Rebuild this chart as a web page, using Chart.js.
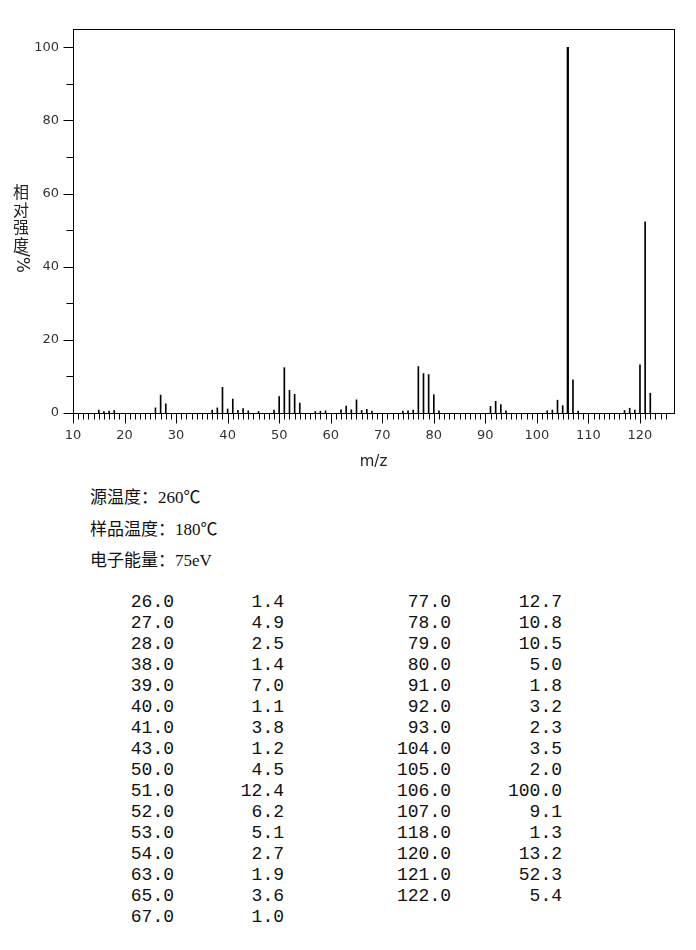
<!DOCTYPE html>
<html>
<head>
<meta charset="utf-8">
<script src="https://cdn.jsdelivr.net/npm/chart.js@4.4.1/dist/chart.umd.min.js"></script>
<style>
  body { margin: 0; background: #fff; width: 696px; height: 950px; position: relative; overflow: hidden; }
  #chartBox { position: absolute; left: 0; top: 0; width: 696px; height: 480px; }
  .info { position: absolute; left: 90px; font: 17px "Liberation Serif", "Noto Sans CJK SC", serif; color: #111; line-height: 20px; white-space: nowrap; }
  .cell { position: absolute; width: 120px; text-align: right; font: 18px "Liberation Mono", monospace; line-height: 21px; color: #111; }
</style>
</head>
<body>
<div id="chartBox"><canvas id="msChart"></canvas></div>
<div id="info"></div>
<div id="peakTable"></div>
<script>
// peaks listed in the table (m/z, relative intensity %)
const peakMz = [26, 27, 28, 38, 39, 40, 41, 43, 50, 51, 52, 53, 54, 63, 65, 67,
                77, 78, 79, 80, 91, 92, 93, 104, 105, 106, 107, 118, 120, 121, 122];
const peakInt = [1.4, 4.9, 2.5, 1.4, 7.0, 1.1, 3.8, 1.2, 4.5, 12.4, 6.2, 5.1, 2.7, 1.9, 3.6, 1.0,
                 12.7, 10.8, 10.5, 5.0, 1.8, 3.2, 2.3, 3.5, 2.0, 100.0, 9.1, 1.3, 13.2, 52.3, 5.4];
// small peaks (< 1 %) seen only in the plot, estimated
const traceMz = [15, 16, 17, 18, 37, 42, 44, 46, 49, 57, 58, 59, 62, 64, 66, 68, 74, 75, 76, 81, 94, 102, 103, 108, 117, 119];
const traceInt = [0.8, 0.4, 0.5, 0.7, 0.8, 0.7, 0.6, 0.4, 0.8, 0.4, 0.5, 0.6, 0.9, 0.9, 0.7, 0.5, 0.5, 0.6, 0.8, 0.6, 0.6, 0.6, 0.8, 0.5, 0.7, 0.8];

const xTickLabels = [10, 20, 30, 40, 50, 60, 70, 80, 90, 100, 110, 120];
const yTickLabels = [0, 20, 40, 60, 80, 100];
const xTitle = 'm/z';
const yTitleChars = ['相', '对', '强', '度'];
const yTitleTail = '/%';
const infoLines = ['源温度：260℃', '样品温度：180℃', '电子能量：75eV'];

const allPeaks = peakMz.map((m, i) => ({ x: m, y: peakInt[i] }))
    .concat(traceMz.map((m, i) => ({ x: m, y: traceInt[i] })));
const basePeakValue = Math.max(...peakInt);

// frame, tick marks and axis titles
const axesPlugin = {
    id: 'msAxes',
    afterDraw(chart) {
        const { ctx, chartArea: a, scales: { x, y } } = chart;
        ctx.save();
        ctx.strokeStyle = '#000';
        ctx.lineWidth = 1;
        ctx.strokeRect(Math.round(a.left) + 0.5, Math.round(a.top) + 0.5,
            Math.round(a.right - a.left), Math.round(a.bottom - a.top));

        const base = Math.round(a.bottom) + 0.5;
        ctx.beginPath();
        for (let v = Math.ceil(x.min); v <= 125; v++) {
            const px = Math.round(x.getPixelForValue(v)) + 0.5;
            const len = v % 10 === 0 ? 10 : 6;
            ctx.moveTo(px, base);
            ctx.lineTo(px, base + len);
        }
        const left = Math.round(a.left) + 0.5;
        for (let v = 0; v <= 100; v += 10) {
            const py = Math.round(y.getPixelForValue(v)) + 0.5;
            const len = v % 20 === 0 ? 10 : 7;
            ctx.moveTo(left, py);
            ctx.lineTo(left - len, py);
        }
        ctx.stroke();

        ctx.fillStyle = '#222';
        ctx.textAlign = 'center';
        ctx.textBaseline = 'middle';
        ctx.font = '15px "DejaVu Sans"';
        ctx.fillText(xTitle, (a.left + a.right) / 2, 462);

        ctx.font = '16px "Noto Sans CJK SC"';
        yTitleChars.forEach((c, i) => ctx.fillText(c, 21, 192 + i * 17.5));
        ctx.translate(21, 262);
        ctx.rotate(Math.PI / 2);
        ctx.font = '17px "DejaVu Sans"';
        ctx.fillText(yTitleTail, 0, 0);
        ctx.restore();
    }
};

const tickFont = { family: 'DejaVu Sans', size: 13 };

new Chart(document.getElementById('msChart'), {
    type: 'bar',
    data: {
        datasets: [
            {
                data: allPeaks.filter(p => p.y < basePeakValue),
                backgroundColor: '#000',
                barThickness: 1,
                grouped: false
            },
            {
                data: allPeaks.filter(p => p.y === basePeakValue),
                backgroundColor: '#000',
                barThickness: 1.6,
                grouped: false
            }
        ]
    },
    options: {
        responsive: true,
        maintainAspectRatio: false,
        animation: false,
        layout: { padding: { left: 0, top: 29, right: 22, bottom: 0 } },
        plugins: {
            legend: { display: false },
            tooltip: { enabled: false }
        },
        scales: {
            x: {
                type: 'linear',
                min: 10,
                max: 126.6,
                offset: false,
                grid: { display: false, drawTicks: false },
                border: { display: false },
                ticks: { padding: 15, font: tickFont, color: '#333', maxRotation: 0, autoSkip: false },
                afterBuildTicks: s => { s.ticks = xTickLabels.map(v => ({ value: v })); },
                afterFit: s => { s.height = 67; }
            },
            y: {
                min: 0,
                max: 105,
                grid: { display: false, drawTicks: false },
                border: { display: false },
                ticks: { padding: 14, font: tickFont, color: '#333' },
                afterBuildTicks: s => { s.ticks = yTickLabels.map(v => ({ value: v })); },
                afterFit: s => { s.width = 73; }
            }
        }
    },
    plugins: [axesPlugin]
});

// source info lines
const info = document.getElementById('info');
infoLines.forEach((t, i) => {
    const d = document.createElement('div');
    d.className = 'info';
    d.style.top = (488 + i * 31.5) + 'px';
    d.textContent = t;
    info.appendChild(d);
});

// peak table, two column pairs
const table = document.getElementById('peakTable');
const colEdges = [174, 284, 451, 562];
const rowsPerCol = 16;
peakMz.forEach((m, i) => {
    const pair = i < rowsPerCol ? 0 : 1;
    const row = i < rowsPerCol ? i : i - rowsPerCol;
    [m.toFixed(1), peakInt[i].toFixed(1)].forEach((txt, k) => {
        const c = document.createElement('div');
        c.className = 'cell';
        c.style.left = (colEdges[pair * 2 + k] - 120) + 'px';
        c.style.top = (592 + row * 21) + 'px';
        c.textContent = txt;
        table.appendChild(c);
    });
});
</script>
</body>
</html>
